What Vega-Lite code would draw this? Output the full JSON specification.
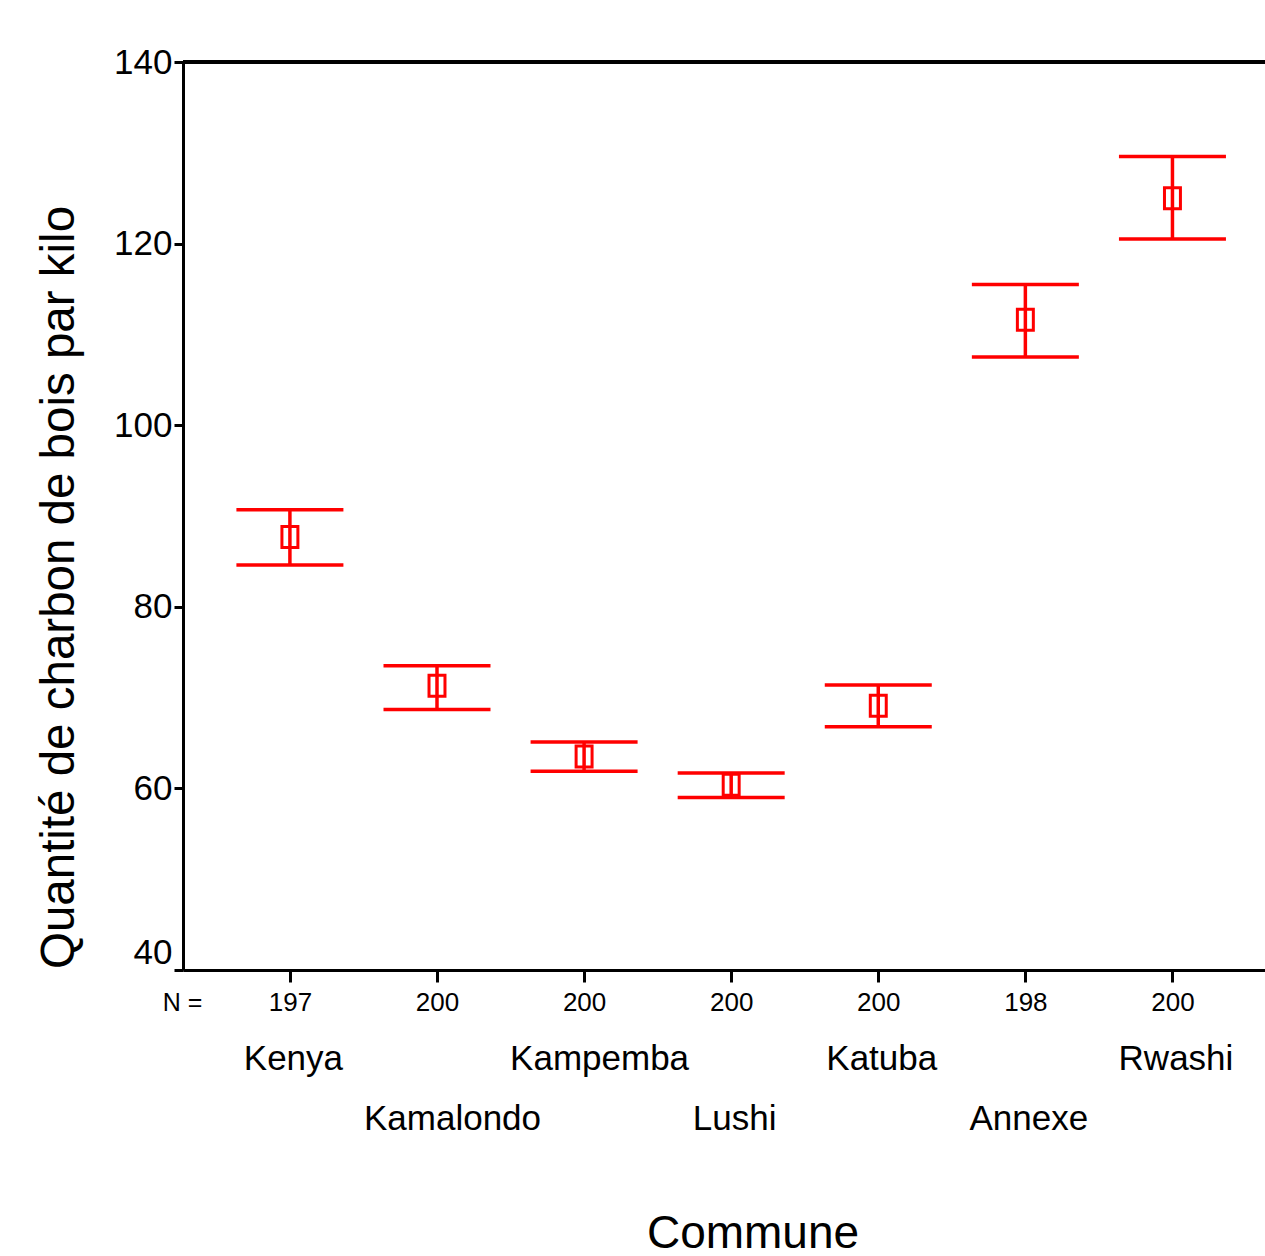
{
  "$schema": "https://vega.github.io/schema/vega-lite/v6.json",
  "autosize": {"type": "none"},
  "padding": {"left": 183, "top": 62, "right": 0, "bottom": 286},
  "width": 1082,
  "height": 908,
  "background": "white",
  "config": {
    "view": {"stroke": null},
    "font": "Liberation Sans",
    "axis": {"labelColor": "black", "titleColor": "black", "domainColor": "black", "tickColor": "black", "grid": false, "titleFontWeight": "normal"}
  },
  "data": {
    "values": [
      {"commune": "Kenya", "n": 197, "mean": 87.7, "lower": 84.6, "upper": 90.7},
      {"commune": "Kamalondo", "n": 200, "mean": 71.3, "lower": 68.7, "upper": 73.5},
      {"commune": "Kampemba", "n": 200, "mean": 63.5, "lower": 61.9, "upper": 65.1},
      {"commune": "Lushi", "n": 200, "mean": 60.4, "lower": 59.0, "upper": 61.7},
      {"commune": "Katuba", "n": 200, "mean": 69.1, "lower": 66.8, "upper": 71.4},
      {"commune": "Annexe", "n": 198, "mean": 111.6, "lower": 107.5, "upper": 115.5},
      {"commune": "Rwashi", "n": 200, "mean": 125.0, "lower": 120.5, "upper": 129.6}
    ]
  },
  "resolve": {"axis": {"x": "independent"}},
  "layer": [
    {
      "mark": {"type": "rule", "color": "#ff0000", "strokeWidth": 3.5},
      "encoding": {
        "x": {
          "field": "commune", "type": "nominal", "sort": null,
          "scale": {"type": "point", "padding": 0.678, "align": 0.536},
          "axis": {
            "orient": "bottom",
            "title": "N =",
            "titleFontSize": 25,
            "titleX": -1,
            "titleY": 32.5,
            "titleBaseline": "middle",
            "titleAlign": "center",
            "titleAngle": 0,
            "labelExpr": "{'Kenya': '197', 'Kamalondo': '200', 'Kampemba': '200', 'Lushi': '200', 'Katuba': '200', 'Annexe': '198', 'Rwashi': '200'}[datum.value]",
            "labelFontSize": 26,
            "labelAngle": 0,
            "labelBaseline": "middle",
            "labelPadding": 20.5,
            "tickSize": 12,
            "tickWidth": 3,
            "domainWidth": 3
          }
        },
        "y": {
          "field": "lower", "type": "quantitative",
          "scale": {"domain": [40, 140], "nice": false, "zero": false},
          "axis": {
            "values": [40, 60, 80, 100, 120, 140],
            "title": "Quantité de charbon de bois par kilo",
            "titleFontSize": 47.5,
            "titleX": -110,
            "titleY": 525,
            "titleBaseline": "alphabetic",
            "titleAngle": -90,
            "titleAlign": "center",
            "labelFontSize": 35,
            "labelPadding": 2,
            "labelBaseline": {"condition": {"test": "datum.value == 40", "value": "bottom"}, "value": "middle"},
            "tickSize": 9,
            "tickWidth": 3,
            "domainWidth": 3
          }
        },
        "y2": {"field": "upper"}
      }
    },
    {
      "mark": {"type": "tick", "orient": "horizontal", "size": 107, "thickness": 3.5, "color": "#ff0000", "opacity": 1},
      "encoding": {
        "x": {"field": "commune", "type": "nominal", "sort": null, "axis": null},
        "y": {"field": "upper", "type": "quantitative"}
      }
    },
    {
      "mark": {"type": "tick", "orient": "horizontal", "size": 107, "thickness": 3.5, "color": "#ff0000", "opacity": 1},
      "encoding": {
        "x": {"field": "commune", "type": "nominal", "sort": null, "axis": null},
        "y": {"field": "lower", "type": "quantitative"}
      }
    },
    {
      "mark": {"type": "point", "shape": "M-0.76,-1H0.76V1H-0.76Z", "size": 441, "filled": false, "strokeWidth": 3, "color": "#ff0000", "opacity": 1},
      "encoding": {
        "x": {
          "field": "commune", "type": "nominal", "sort": null,
          "axis": {
            "orient": "bottom",
            "title": "Commune",
            "titleFontSize": 46,
            "titleX": 569.5,
            "titleY": 277,
            "titleBaseline": "alphabetic",
            "titleAlign": "center",
            "titleAngle": 0,
            "labelFontSize": 35,
            "labelAngle": 0,
            "labelBaseline": "middle",
            "labelPadding": {"condition": {"test": "indexof(['Kamalondo', 'Lushi', 'Annexe'], datum.value) >= 0", "value": 148.5}, "value": 88.5},
            "labelOffset": {"condition": {"test": "datum.value == 'Kamalondo' || datum.value == 'Kampemba'", "value": 15}, "value": 3},
            "ticks": false,
            "tickSize": 0,
            "domain": false
          }
        },
        "y": {"field": "mean", "type": "quantitative"}
      }
    },
    {
      "mark": {"type": "rule", "color": "black", "strokeWidth": 3},
      "encoding": {
        "y": {"datum": 140, "type": "quantitative"}
      }
    }
  ]
}
